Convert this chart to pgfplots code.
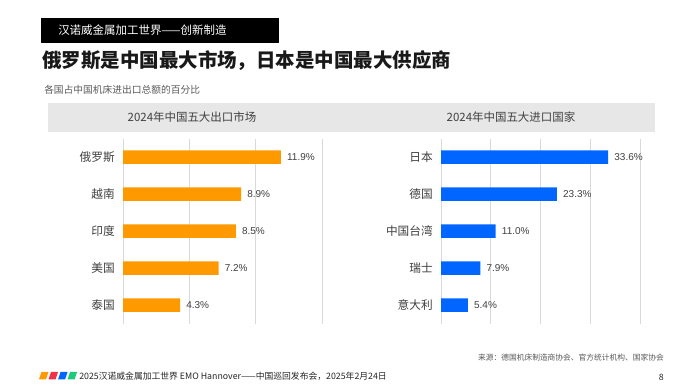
\documentclass[border=0pt]{standalone}
\usepackage{pgfplots}
\pgfplotsset{compat=1.18}
\usepackage{fontspec}
\setmainfont{Liberation Sans}
\newfontfamily\cjk{Noto Sans CJK SC}
\definecolor{barorange}{HTML}{FF9900}
\definecolor{barblue}{HTML}{0066FF}
\definecolor{gridgray}{HTML}{D9D9D9}
\definecolor{labgray}{HTML}{404040}
\definecolor{subgray}{HTML}{595959}
\definecolor{bandgray}{HTML}{E7E7E7}
\definecolor{fred}{HTML}{F0324B}
\definecolor{fgreen}{HTML}{1DC97A}
\pgfplotsset{
  panel/.style={
    xbar, scale only axis,
    width=199*0.75pt, height=185*0.75pt,
    xmin=0, ymin=-0.5, ymax=4.5, y dir=reverse,
    ytick={0,1,2,3,4}, xticklabels={},
    xmajorgrids, grid style={draw=gridgray, line width=0.75pt},
    axis line style={draw=none}, major tick length=0pt,
    bar width=13.5*0.75pt,
    yticklabel style={font=\cjk\fontsize{8.75}{10}\selectfont, text=labgray, inner sep=0pt, xshift=-6pt},
    /pgf/number format/assume math mode=true,
    point meta=x,
    nodes near coords={\pgfmathprintnumber[fixed,fixed zerofill,precision=1]{\pgfplotspointmeta}\%},
    every node near coord/.append style={font=\fontsize{7.5}{8}\selectfont, text=labgray, inner sep=0pt, anchor=west, xshift=4.5pt},
  }
}
\begin{document}
\begin{tikzpicture}
\useasboundingbox[fill=white] (0,0) rectangle (700*0.75pt,-391*0.75pt);
\begin{scope}[x=0.75pt,y=-0.75pt]
  \fill[black] (41,18) rectangle (279,43);
  \node[anchor=west, text=white, inner sep=0pt, font=\cjk\fontsize{8.6}{10}\selectfont] at (58,30.5) {汉诺威金属加工世界——创新制造};
  \node[anchor=west, text=black!90, inner sep=0pt, font=\cjk\bfseries\fontsize{14.6}{16}\selectfont] at (42,61) {俄罗斯是中国最大市场，日本是中国最大供应商};
  \node[anchor=west, text=subgray, inner sep=0pt, font=\cjk\fontsize{7.3}{9}\selectfont] at (44,90) {各国占中国机床进出口总额的百分比};
  \fill[bandgray] (48,103) rectangle (655,132);
  \node[text=labgray, inner sep=0pt, font=\cjk\fontsize{8.6}{10}\selectfont] at (192,117.5) {2024年中国五大出口市场};
  \node[text=labgray, inner sep=0pt, font=\cjk\fontsize{8.6}{10}\selectfont] at (511,117.5) {2024年中国五大进口国家};
  \node[anchor=east, text=subgray, inner sep=0pt, font=\cjk\fontsize{5.8}{7}\selectfont] at (664,358) {来源：德国机床制造商协会、官方统计机构、国家协会};
  \fill[barorange] (41.5,372) -- (48.5,372) -- (46,379.5) -- (39,379.5) -- cycle;
  \fill[fred] (51,372) -- (58,372) -- (55.5,379.5) -- (48.5,379.5) -- cycle;
  \fill[barblue] (60.5,372) -- (67.5,372) -- (65,379.5) -- (58,379.5) -- cycle;
  \fill[fgreen] (70,372) -- (77,372) -- (74.5,379.5) -- (67.5,379.5) -- cycle;
  \node[anchor=west, text=black!85, inner sep=0pt, font=\cjk\fontsize{6.6}{8}\selectfont] at (79,376) {2025汉诺威金属加工世界 EMO Hannover——中国巡回发布会，2025年2月24日};
  \node[anchor=east, text=black!85, inner sep=0pt, font=\cjk\fontsize{6.6}{8}\selectfont] at (664,377) {8};
\end{scope}
\begin{axis}[panel, at={(123*0.75pt,-323.5*0.75pt)}, anchor=south west,
  xmax=15, xtick={0,5,10,15},
  yticklabels={俄罗斯,越南,印度,美国,泰国}]
  \addplot[fill=barorange, draw=none] coordinates {(11.9,0) (8.9,1) (8.5,2) (7.2,3) (4.3,4)};
\end{axis}
\begin{axis}[panel, at={(441*0.75pt,-323.5*0.75pt)}, anchor=south west,
  xmax=40, xtick={0,10,20,30,40},
  yticklabels={日本,德国,中国台湾,瑞士,意大利}]
  \addplot[fill=barblue, draw=none] coordinates {(33.6,0) (23.3,1) (11.0,2) (7.9,3) (5.4,4)};
\end{axis}
\end{tikzpicture}
\end{document}
